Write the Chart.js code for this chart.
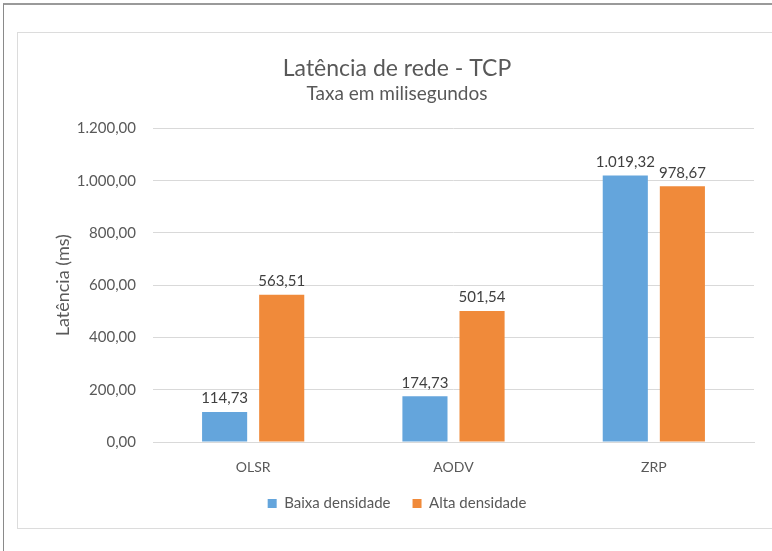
<!DOCTYPE html>
<html>
<head>
<meta charset="utf-8">
<script src="https://cdn.jsdelivr.net/npm/chart.js@4"></script>
<style>
  body { margin: 0; background: #fff; }
  #outer { position: absolute; left: 3px; top: 3px; width: 772px; height: 546px;
           border-left: 1px solid #8a8a8a; border-top: 2px solid #9a9a9a; border-bottom: 1px solid #e6e6e6; }
  #panel { position: absolute; left: 17px; top: 32px; width: 754px; height: 495px;
           border: 1px solid #dcdcdc; border-right: none; background: #fff; }
  canvas { position: absolute; left: 0; top: 0; }
</style>
</head>
<body>
<div id="outer"></div>
<div id="panel"><canvas id="grafico" width="754" height="495"></canvas></div>
<script>
const categorias = ["OLSR", "AODV", "ZRP"];
const baixaDensidade = [114.73, 174.73, 1019.32];
const altaDensidade = [563.51, 501.54, 978.67];

function formatoBR(v) {
  const partes = v.toFixed(2).split(".");
  const inteiro = partes[0].replace(/\B(?=(\d{3})+(?!\d))/g, ".");
  return inteiro + "," + partes[1];
}

const fonte = "Lato, 'Open Sans', sans-serif";

const rotulos = {
  id: "rotulos",
  afterDatasetsDraw(chart) {
    const ctx = chart.ctx;
    ctx.save();
    ctx.font = "15px " + fonte;
    ctx.fillStyle = "#404040";
    ctx.textAlign = "center";
    ctx.textBaseline = "bottom";
    chart.data.datasets.forEach((ds, i) => {
      chart.getDatasetMeta(i).data.forEach((bar, j) => {
        ctx.fillText(formatoBR(ds.data[j]), bar.x, bar.y - 6);
      });
    });
    ctx.restore();
  }
};

new Chart(document.getElementById("grafico"), {
  type: "bar",
  data: {
    labels: categorias,
    datasets: [
      { label: "Baixa densidade", data: baixaDensidade, backgroundColor: "#64a5dc" },
      { label: "Alta densidade", data: altaDensidade, backgroundColor: "#f08a3a" }
    ]
  },
  plugins: [rotulos],
  options: {
    responsive: false,
    animation: false,
    layout: { padding: { top: 22, right: 18, left: 22, bottom: 7 } },
    datasets: { bar: { categoryPercentage: 0.57, barPercentage: 0.79 } },
    plugins: {
      title: {
        display: true,
        text: "Latência de rede - TCP",
        color: "#595959",
        font: { family: fonte, size: 23, weight: "normal" },
        padding: { top: 0, bottom: 0 }
      },
      subtitle: {
        display: true,
        text: "Taxa em milisegundos",
        color: "#595959",
        font: { family: fonte, size: 19 },
        padding: { top: 0, bottom: 23 }
      },
      legend: {
        position: "bottom",
        labels: {
          color: "#595959",
          font: { family: fonte, size: 15 },
          boxWidth: 9,
          boxHeight: 9,
          padding: 22
        }
      },
      tooltip: { enabled: false }
    },
    scales: {
      x: {
        afterFit(scale) { scale.height = 32; },
        grid: { display: false },
        border: { color: "#d9d9d9" },
        ticks: { color: "#595959", font: { family: fonte, size: 14 }, padding: 9 }
      },
      y: {
        min: 0,
        max: 1200,
        afterFit(scale) { scale.width = 113; },
        border: { display: false },
        grid: { color: "#d9d9d9", drawTicks: false },
        ticks: {
          stepSize: 200,
          color: "#595959",
          font: { family: fonte, size: 15 },
          padding: 17,
          callback: v => formatoBR(v)
        },
        title: {
          display: true,
          text: "Latência (ms)",
          color: "#595959",
          font: { family: fonte, size: 18 },
          padding: { top: 12, bottom: 6 }
        }
      }
    }
  }
});
</script>
</body>
</html>
